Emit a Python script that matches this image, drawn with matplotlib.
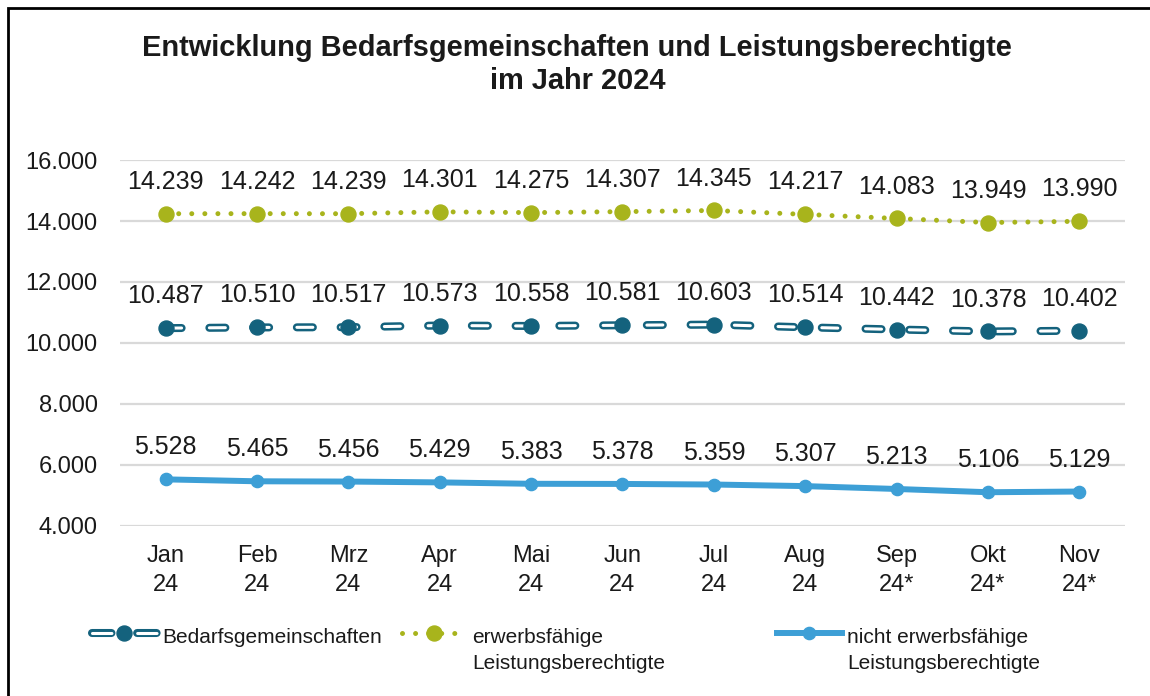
import matplotlib.pyplot as plt
import matplotlib.patches as mpatches
from matplotlib.lines import Line2D
import numpy as np

plt.rcParams['font.family'] = ['Liberation Sans', 'DejaVu Sans']
plt.rcParams['lines.scale_dashes'] = False

months = ["Jan\n24", "Feb\n24", "Mrz\n24", "Apr\n24", "Mai\n24", "Jun\n24",
          "Jul\n24", "Aug\n24", "Sep\n24*", "Okt\n24*", "Nov\n24*"]
bedarfsgemeinschaften = [10487, 10510, 10517, 10573, 10558, 10581, 10603, 10514, 10442, 10378, 10402]
erwerbsfaehige = [14239, 14242, 14239, 14301, 14275, 14307, 14345, 14217, 14083, 13949, 13990]
nicht_erwerbsfaehige = [5528, 5465, 5456, 5429, 5383, 5378, 5359, 5307, 5213, 5106, 5129]
yticks = [4000, 6000, 8000, 10000, 12000, 14000, 16000]
legend_labels = ["Bedarfsgemeinschaften\n ", "erwerbsfähige\nLeistungsberechtigte",
                 "nicht erwerbsfähige\nLeistungsberechtigte"]

c_bg = '#14627d'
c_elb = '#a8b41c'
c_nelb = '#3d9fd6'
c_txt = '#1a1a1a'


def de_fmt(v):
    return f"{v:,.0f}".replace(",", ".")


fig = plt.figure(figsize=(11.5, 6.96), dpi=100)
ax = fig.add_axes([0.1043, 0.2443, 0.874, 0.5258])
x = np.arange(len(months))

# Bedarfsgemeinschaften: hollow dashes (outer teal, inner white) + markers
ax.plot(x, bedarfsgemeinschaften, color=c_bg, lw=5.8, dashes=(11.5, 20),
        dash_capstyle='round', zorder=3)
ax.plot(x, bedarfsgemeinschaften, color='white', lw=2.2, dashes=(11.5, 20),
        dash_capstyle='round', zorder=4)
ax.plot(x, bedarfsgemeinschaften, ls='none', marker='o', ms=10.8, color=c_bg, zorder=5)

# erwerbsfaehige: dotted
ax.plot(x, erwerbsfaehige, color=c_elb, lw=3.6, dashes=(0.01, 9.4),
        dash_capstyle='round', marker='o', ms=10.8, zorder=3)

# nicht erwerbsfaehige: solid
ax.plot(x, nicht_erwerbsfaehige, color=c_nelb, lw=4.3, marker='o', ms=8.8, zorder=3)

for series in (bedarfsgemeinschaften, erwerbsfaehige, nicht_erwerbsfaehige):
    for xi, v in zip(x, series):
        ax.annotate(de_fmt(v), (xi, v), xytext=(0, 23), textcoords='offset points',
                    ha='center', va='center', fontsize=18, color=c_txt)

ax.set_xlim(-0.5, 10.5)
ax.set_ylim(4000, 16000)
ax.set_yticks(yticks)
ax.set_yticklabels([de_fmt(v) for v in yticks], fontsize=17, color=c_txt)
ax.set_xticks(x)
ax.set_xticklabels(months, fontsize=17, color=c_txt, linespacing=1.36)
ax.tick_params(length=0)
ax.tick_params(axis='y', pad=16)
ax.tick_params(axis='x', pad=14)
for s in ax.spines.values():
    s.set_visible(False)
ax.grid(axis='y', color='#d9d9d9', lw=1.6, zorder=0)
ax.set_axisbelow(True)

fig.text(0.502, 0.907, "Entwicklung Bedarfsgemeinschaften und Leistungsberechtigte\nim Jahr 2024",
         ha='center', va='center', fontsize=20.9, fontweight='bold', color=c_txt,
         linespacing=1.24)

# legend proxies
h_bg = (Line2D([], [], color=c_bg, lw=5.8, dashes=(14, 18.5), dash_capstyle='round'),
        Line2D([], [], color='white', lw=2.2, dashes=(14, 18.5), dash_capstyle='round'),
        Line2D([], [], ls='none', marker='o', ms=10.8, color=c_bg))
h_elb = Line2D([], [], color=c_elb, lw=3.6, dashes=(0.01, 9.4), dash_capstyle='round',
               marker='o', ms=10.8)
h_nelb = Line2D([], [], color=c_nelb, lw=4.3, marker='o', ms=8.8)

anchors = [0.080, 0.3496, 0.6757]
for handle, label, ax_x in zip([h_bg, h_elb, h_nelb], legend_labels, anchors):
    leg = fig.legend([handle], [label], loc='upper left', bbox_to_anchor=(ax_x, 0.0977),
                     frameon=False, fontsize=15, handlelength=3.1, handletextpad=0.25,
                     borderaxespad=0, borderpad=0)
    for t in leg.get_texts():
        t.set_color(c_txt)
        t.set_linespacing(1.45)
    # move the handle up to the first text line
    for child in leg.findobj(Line2D):
        if child.axes is None:
            yd = np.asarray(child.get_ydata())
            if len(yd):
                child.set_ydata(yd + 13)

# outer frame (cut at right and bottom like the source)
fig.patches.append(mpatches.Rectangle((0.007, -0.1), 1.2, 0.1 + 0.9885, fill=False,
                                      edgecolor='black', lw=2, transform=fig.transFigure,
                                      figure=fig))

fig.savefig("out.png", dpi=100)
